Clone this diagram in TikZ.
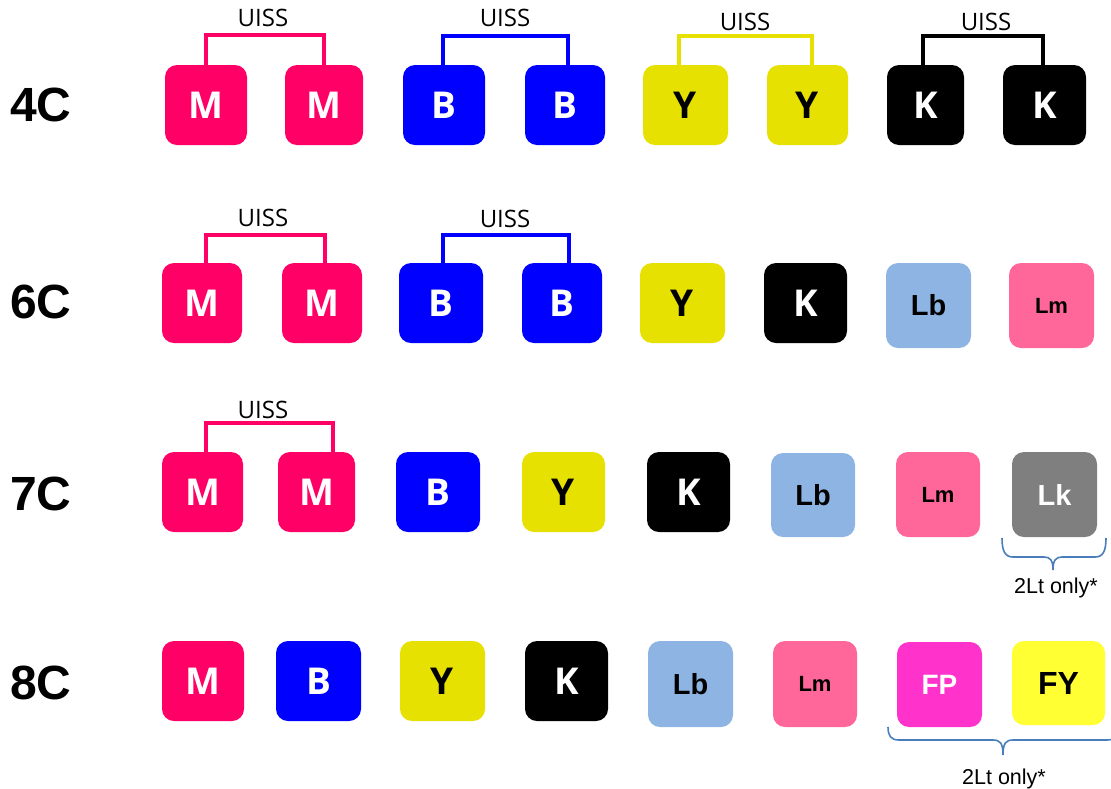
\documentclass[tikz,border=0pt]{standalone}
\usepackage{fontspec}
\setmainfont{Liberation Sans}
\newfontfamily\osans{Open Sans}
\definecolor{inkM}{HTML}{FF0066}
\definecolor{inkB}{HTML}{0000FF}
\definecolor{inkY}{HTML}{E6E100}
\definecolor{inkLb}{HTML}{8DB4E2}
\definecolor{inkLm}{HTML}{FF6699}
\definecolor{inkLk}{HTML}{7F7F7F}
\definecolor{inkFP}{HTML}{FF33CC}
\definecolor{inkFY}{HTML}{FFFF33}
\definecolor{bracecol}{HTML}{4A7EBB}
\newcommand\ink[7][]{\node[inkbox,#1,minimum width={#5pt-#3pt},minimum height={#6pt-#4pt}] (#2) at ({(#3+#5)/2},{(#4+#6)/2}) {#7};}
\begin{document}
\begin{tikzpicture}[x=1pt,y=-1pt,
  inkbox/.style={rounded corners=12pt, inner sep=0pt, draw=none, text=white, font=\osans\bfseries\fontsize{37}{37}\selectfont},
  dk/.style={text=black},
  lfont/.style={font=\bfseries\fontsize{#1}{#1}\selectfont},
  uissline/.style={line width=4.5pt, draw=#1},
  uisstext/.style={font=\osans\fontsize{24}{24}\selectfont, inner sep=0pt},
  rowlab/.style={font=\bfseries\fontsize{48}{48}\selectfont, anchor=west, inner sep=0pt},
  bracepath/.style={draw=bracecol, line width=1.6pt},
  note/.style={font=\fontsize{21.5}{21.5}\selectfont, anchor=base, inner sep=0pt}]
\useasboundingbox (0,0) rectangle (1111,788);

% row labels
\node[rowlab] (r4) at (10,105) {4C};
\node[rowlab] (r6) at (10,302) {6C};
\node[rowlab] (r7) at (10,494) {7C};
\node[rowlab] (r8) at (10,683) {8C};

% row 4C
\ink[fill=inkM]{M41}{165}{65}{247}{145}{M}
\ink[fill=inkM]{M42}{285}{65}{363}{145}{M}
\ink[fill=inkB]{B41}{403}{65}{485}{145}{B}
\ink[fill=inkB]{B42}{525}{65}{605}{145}{B}
\ink[fill=inkY,dk]{Y41}{643}{65}{728}{145}{Y}
\ink[fill=inkY,dk]{Y42}{767}{65}{848}{145}{Y}
\ink[fill=black]{K41}{887}{65}{964}{145}{K}
\ink[fill=black]{K42}{1003}{65}{1086}{145}{K}

\draw[uissline=inkM] (M41.north) -- ++(0,-30) -| (M42.north);
\draw[uissline=inkB] ([xshift=-1pt]B41.north) -- ++(0,-29) -| ([xshift=3pt]B42.north);
\draw[uissline=inkY] ([xshift=-6.5pt]Y41.north) -- ++(0,-29) -| ([xshift=4.5pt]Y42.north);
\draw[uissline=black] ([xshift=-2.5pt]K41.north) -- ++(0,-29) -| ([xshift=-1.5pt]K42.north);
\node[uisstext] (u41) at (263,18) {UISS};
\node[uisstext] (u42) at (505,18) {UISS};
\node[uisstext] (u43) at (745,22) {UISS};
\node[uisstext] (u44) at (986,22) {UISS};

% row 6C
\ink[fill=inkM]{M61}{162}{263}{242}{343}{M}
\ink[fill=inkM]{M62}{282}{263}{362}{343}{M}
\ink[fill=inkB]{B61}{399}{263}{483}{343}{B}
\ink[fill=inkB]{B62}{522}{263}{602}{343}{B}
\ink[fill=inkY,dk]{Y6}{640}{263}{725}{343}{Y}
\ink[fill=black]{K6}{764}{263}{847}{343}{K}
\ink[fill=inkLb,dk,lfont=29]{Lb6}{886}{263}{971}{348}{Lb}
\ink[fill=inkLm,dk,lfont=22]{Lm6}{1009}{263}{1094}{348}{Lm}

\draw[uissline=inkM] ([xshift=4pt]M61.north) -- ++(0,-28) -| ([xshift=3pt]M62.north);
\draw[uissline=inkB] ([xshift=2pt]B61.north) -- ++(0,-28) -| ([xshift=7pt]B62.north);
\node[uisstext] (u61) at (263,218) {UISS};
\node[uisstext] (u62) at (505,219) {UISS};

% row 7C
\ink[fill=inkM]{M71}{162}{452}{243}{532}{M}
\ink[fill=inkM]{M72}{278}{452}{355}{532}{M}
\ink[fill=inkB]{B7}{396}{452}{480}{532}{B}
\ink[fill=inkY,dk]{Y7}{522}{452}{605}{532}{Y}
\ink[fill=black]{K7}{647}{452}{730}{532}{K}
\ink[fill=inkLb,dk,lfont=29]{Lb7}{771}{453}{855}{537}{Lb}
\ink[fill=inkLm,dk,lfont=22]{Lm7}{896}{452}{980}{537}{Lm}
\ink[fill=inkLk,lfont=29]{Lk7}{1012}{452}{1097}{537}{Lk}

\draw[uissline=inkM] ([xshift=3.5pt]M71.north) -- ++(0,-29) -| ([xshift=16.5pt]M72.north);
\node[uisstext] (u71) at (263,410) {UISS};

\draw[bracepath] (1002,538) .. controls (1002,551) and (1005,557) .. (1013,557) -- (1044,557)
  .. controls (1050,557) and (1053,560) .. (1053,570)
  .. controls (1053,560) and (1056,557) .. (1062,557) -- (1095,557)
  .. controls (1103,557) and (1106,551) .. (1106,538);
\node[note] (n7) at (1056,593) {2Lt only*};

% row 8C
\ink[fill=inkM]{M8}{162}{641}{244}{721}{M}
\ink[fill=inkB]{B8}{276}{641}{361}{721}{B}
\ink[fill=inkY,dk]{Y8}{400}{641}{485}{721}{Y}
\ink[fill=black]{K8}{525}{641}{608}{721}{K}
\ink[fill=inkLb,dk,lfont=29]{Lb8}{648}{641}{733}{727}{Lb}
\ink[fill=inkLm,dk,lfont=22]{Lm8}{773}{641}{857}{727}{Lm}
\ink[fill=inkFP,lfont=28]{FP8}{897}{642}{982}{727}{FP}
\ink[fill=inkFY,dk,lfont=32]{FY8}{1012}{641}{1105}{725}{FY}

\draw[bracepath] (888,727) .. controls (888,736) and (891,740) .. (899,740) -- (993,740)
  .. controls (1000,740) and (1003,743) .. (1003,755)
  .. controls (1003,743) and (1006,740) .. (1013,740) -- (1107,740)
  .. controls (1115,740) and (1118,736) .. (1118,727);
\node[note] (n8) at (1004,784) {2Lt only*};
\end{tikzpicture}
\end{document}
